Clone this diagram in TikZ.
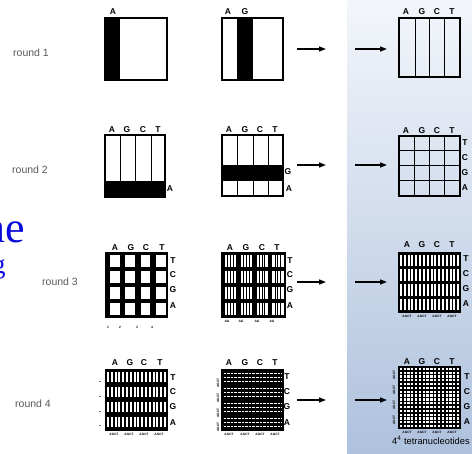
\documentclass[tikz,border=0pt]{standalone}
\usepackage{fontspec}
\setsansfont{Liberation Sans}
\setmainfont{Liberation Serif}
\usetikzlibrary{arrows.meta}
\definecolor{panelTop}{RGB}{243,246,251}
\definecolor{panelBot}{RGB}{174,193,221}
\definecolor{slideblue}{RGB}{10,10,220}
\begin{document}
\begin{tikzpicture}[x=1pt,y=-1pt]
\tikzset{
 box/.style={draw=black, line width=1.6pt},
 gridln/.style={draw=black, line width=1pt},
 lbl/.style={font=\sffamily\bfseries\fontsize{8.5}{8.5}\selectfont, inner sep=0pt},
 rnd/.style={font=\sffamily\fontsize{10.5}{10.5}\selectfont, text=black!65, inner sep=0pt, anchor=west},
 tinytxt/.style={font=\sffamily\bfseries\fontsize{3.2}{3.2}\selectfont, inner sep=0pt},
 arr/.style={line width=1.3pt, -{Triangle[length=7pt,width=5pt]}},
 bluetxt/.style={font=\rmfamily, text=slideblue, inner sep=0pt, anchor=base west},
}
\useasboundingbox (0,0) rectangle (472,454);
\shade[top color=panelTop, bottom color=panelBot] (347,0) rectangle (472,454);

% slide overlay text
\node[bluetxt, font=\rmfamily\fontsize{44}{44}\selectfont] (ne) at (-17,243) {ne};
\node[bluetxt, font=\rmfamily\fontsize{27}{27}\selectfont] (g) at (-8,274) {g};

% round labels
\node[rnd] (r1) at (13,53) {round 1};
\node[rnd] (r2) at (12,170) {round 2};
\node[rnd] (r3) at (42,282) {round 3};
\node[rnd] (r4) at (15,404) {round 4};

% ---------- round 1 ----------
\fill (105,18) rectangle (120,80);
\draw[box] (105,18) rectangle (167,80);
\node[lbl] (a11) at (113,12) {A};
\fill (237,18) rectangle (253,80);
\draw[box] (222,18) rectangle (283,80);
\node[lbl] (a12) at (228,12) {A};
\node[lbl] (g12) at (245,12) {G};
\draw[box] (399,18) rectangle (460,77);
\foreach \x in {415,429,444} \draw[gridln] (\x,18) -- (\x,77);
\foreach \x/\t [count=\i] in {406/A,422/G,437/C,452/T} \node[lbl] (t13\i) at (\x,12) {\t};

% ---------- round 2 ----------
\fill (105,181) rectangle (165,197);
\foreach \x in {120,135,151} \draw[gridln] (\x,135) -- (\x,181);
\draw[box] (105,135) rectangle (165,197);
\foreach \x/\t [count=\i] in {112/A,127/G,143/C,158/T} \node[lbl] (t21\i) at (\x,130) {\t};
\node[lbl] (s21) at (170,189) {A};

\fill (222,165) rectangle (283,181);
\foreach \x in {237,253,268} {\draw[gridln] (\x,135) -- (\x,165); \draw[gridln] (\x,181) -- (\x,196);}
\draw[box] (222,135) rectangle (283,196);
\foreach \x/\t [count=\i] in {229/A,245/G,260/C,275/T} \node[lbl] (t22\i) at (\x,130) {\t};
\node[lbl] (s22g) at (288,172) {G};
\node[lbl] (s22a) at (289,189) {A};

\foreach \x in {414.25,429.5,444.75} \draw[gridln] (\x,136) -- (\x,196);
\foreach \y in {151,166,181} \draw[gridln] (399,\y) -- (460,\y);
\draw[box] (399,136) rectangle (460,196);
\foreach \x/\t [count=\i] in {406/A,422/G,437/C,452/T} \node[lbl] (t23\i) at (\x,131) {\t};
\foreach \y/\t [count=\i] in {143/T,158/C,173/G,188/A} \node[lbl] (s23\i) at (465,\y) {\t};

% ---------- round 3 ----------
\fill (106,253) rectangle (167,317);
\foreach \c in {0,...,3} \foreach \r in {0,...,3}
  \fill[white] ({106+\c*15.25+4},{253+\r*16+2}) rectangle ({106+(\c+1)*15.25-1.5},{253+(\r+1)*16-1.5});
\draw[box] (106,253) rectangle (167,317);
\foreach \x/\t [count=\i] in {115/A,131/G,146/C,162/T} \node[lbl] (t31\i) at (\x,248) {\t};
\foreach \y/\t [count=\i] in {261/T,275/C,290/G,306/A} \node[lbl] (s31\i) at (173,\y) {\t};
\foreach \x/\t [count=\i] in {108/1,120/2,137/3,152/4} \node[tinytxt] (u31\i) at (\x,327) {\t};

\fill (222,253) rectangle (285,317);
\foreach \c in {0,...,3} \foreach \r in {0,...,3} {
  \fill[white] ({222+\c*15.75+3},{253+\r*16+2}) rectangle ({222+(\c+1)*15.75-1.5},{253+(\r+1)*16-1.5});
  \foreach \k in {1,2,3}
    \draw[line width=0.9pt] ({222+\c*15.75+3+\k*2.8},{253+\r*16+2}) -- ++(0,12.5);
}
\draw[box] (222,253) rectangle (285,317);
\foreach \x/\t [count=\i] in {230/A,246/G,262/C,277/T} \node[lbl] (t32\i) at (\x,248) {\t};
\foreach \y/\t [count=\i] in {261/T,275/C,290/G,306/A} \node[lbl] (s32\i) at (290,\y) {\t};
\foreach \x [count=\i] in {227,241,257,272} \node[tinytxt] (u32\i) at (\x,321) {AG};

\fill (399,253) rectangle (460,312);
\foreach \c in {0,...,15} \foreach \r in {0,...,3}
  \fill[white] ({399+\c*3.8125+1},{253+\r*14.75+1.6}) rectangle ({399+(\c+1)*3.8125-0.8},{253+(\r+1)*14.75-1.6});
\draw[box] (399,253) rectangle (460,312);
\foreach \x/\t [count=\i] in {407/A,422/G,437/C,452/T} \node[lbl] (t33\i) at (\x,245) {\t};
\foreach \y/\t [count=\i] in {259/T,274/C,289/G,304/A} \node[lbl] (s33\i) at (466,\y) {\t};
\foreach \x [count=\i] in {407,422,437,452} \node[tinytxt] (u33\i) at (\x,316) {AGCT};

% ---------- round 4 ----------
\fill (106,370) rectangle (167,430);
\foreach \c in {0,...,15} \foreach \r in {0,...,3}
  \fill[white] ({106+\c*3.8125+0.9},{370+\r*15+2.5}) rectangle ({106+(\c+1)*3.8125-0.9},{370+(\r+1)*15-2.5});
\draw[box] (106,370) rectangle (167,430);
\foreach \x/\t [count=\i] in {115/A,130/G,144/C,160/T} \node[lbl] (t41\i) at (\x,363) {\t};
\foreach \y/\t [count=\i] in {378/T,392/C,407/G,423/A} \node[lbl] (s41\i) at (173,\y) {\t};
\foreach \y [count=\i] in {383,398,413,427} \node[tinytxt, font=\sffamily\bfseries\fontsize{6}{6}\selectfont] (l41\i) at (100,\y) {-};
\foreach \x [count=\i] in {114,129,144,159} \node[tinytxt] (u41\i) at (\x,434) {AGCT};

\fill (222,370) rectangle (283,430);
\foreach \r in {0,...,3} \foreach \k in {0,1,2}
  \draw[white, line width=1.7pt, dash pattern=on 2.6pt off 1pt] (223.5,{370+\r*15+3.5+\k*4}) -- (281.5,{370+\r*15+3.5+\k*4});
\draw[box] (222,370) rectangle (283,430);
\foreach \x/\t [count=\i] in {229/A,245/G,260/C,275/T} \node[lbl] (t42\i) at (\x,363) {\t};
\foreach \y/\t [count=\i] in {377/T,392/C,407/G,423/A} \node[lbl] (s42\i) at (287,\y) {\t};
\foreach \y [count=\i] in {383,398,413,427} \node[tinytxt, rotate=90] (l42\i) at (218,\y) {AGCT};
\foreach \x [count=\i] in {229,245,260,275} \node[tinytxt] (u42\i) at (\x,434) {AGCT};

\fill (399,367) rectangle (460,428);
\foreach \c in {0,...,15} \foreach \r in {0,...,15}
  \fill[white] ({399+\c*3.8125+0.8},{367+\r*3.8125+0.8}) rectangle ({399+(\c+1)*3.8125-0.8},{367+(\r+1)*3.8125-0.8});
\draw[box] (399,367) rectangle (460,428);
\foreach \x/\t [count=\i] in {407/A,422/G,437/C,452/T} \node[lbl] (t43\i) at (\x,362) {\t};
\foreach \y/\t [count=\i] in {377/T,392/C,407/G,422/A} \node[lbl] (s43\i) at (467,\y) {\t};
\foreach \y [count=\i] in {375,390,405,420} \node[tinytxt, rotate=90] (l43\i) at (394,\y) {AGCT};
\foreach \x [count=\i] in {407,422,437,452} \node[tinytxt] (u43\i) at (\x,432) {AGCT};
\node[font=\sffamily\fontsize{9.3}{9.3}\selectfont, anchor=west, inner sep=0pt] (cap) at (392,440) {4\textsuperscript{4} tetranucleotides};

% ---------- arrows ----------
\foreach \y [count=\i] in {49,165,282,400} {
  \coordinate (p\i a) at (297,\y); \coordinate (p\i b) at (326,\y);
  \coordinate (q\i a) at (355,\y); \coordinate (q\i b) at (387,\y);
  \draw[arr] (p\i a) -- (p\i b);
  \draw[arr] (q\i a) -- (q\i b);
}
\end{tikzpicture}
\end{document}
